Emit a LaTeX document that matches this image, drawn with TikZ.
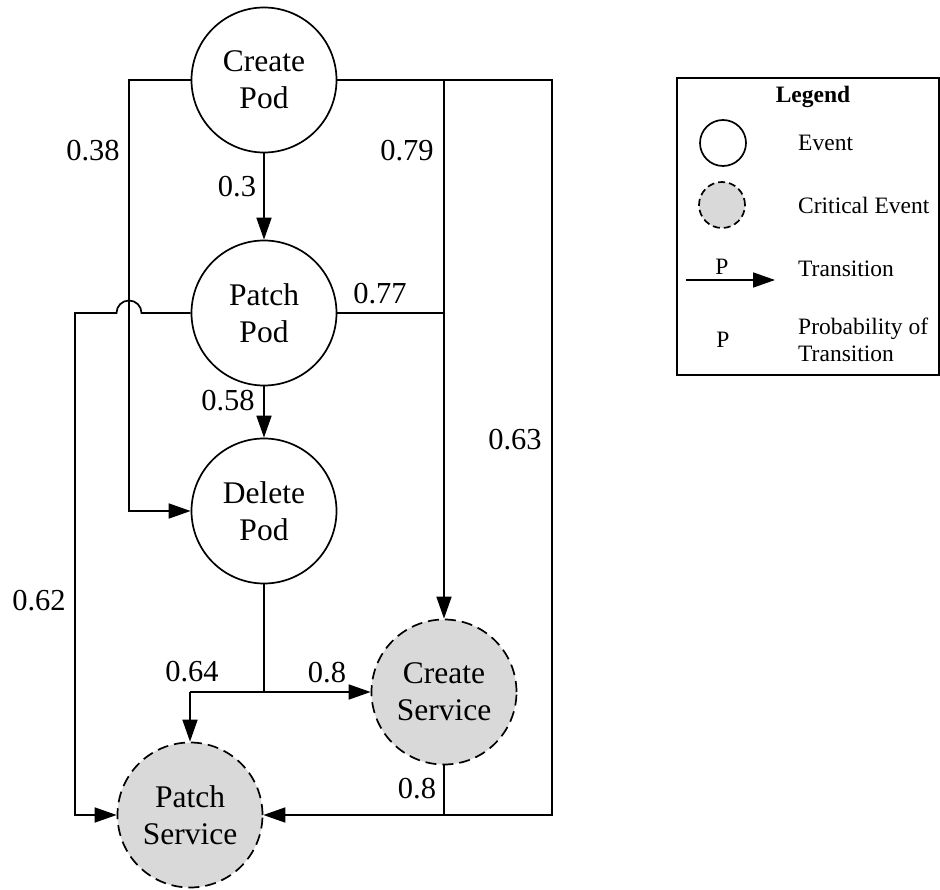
\documentclass[tikz,border=0pt]{standalone}
\usepackage{fontspec}
\setmainfont{Liberation Serif}
\usepackage{tikz}
\usetikzlibrary{arrows.meta,positioning}

\begin{document}
\begin{tikzpicture}[
  x=1pt, y=-1pt,
  event/.style={circle, draw, line width=1.7pt, minimum size=145pt, inner sep=0pt, align=center, font=\fontsize{31.5}{37}\selectfont},
  critical/.style={event, dash pattern=on 11pt off 6pt, fill=black!15},
  prob/.style={inner sep=0pt, font=\fontsize{30.5}{36}\selectfont},
  arr/.style={line width=1.7pt, -{Triangle[length=22pt,width=15pt]}},
  wire/.style={line width=1.7pt},
  legtext/.style={anchor=west, inner sep=0pt, align=left, font=\fontsize{23.5}{27}\selectfont},
]
\useasboundingbox (0,0) rectangle (940,890);

% Events
\node[event] (cpod) at (264,80) {Create\\Pod};
\node[event] (ppod) at (264,313) {Patch\\Pod};
\node[event] (dpod) at (264,511) {Delete\\Pod};
\node[critical] (csvc) at (444,692) {Create\\Service};
\node[critical] (psvc) at (190,815) {Patch\\Service};

% Bend points
\coordinate (tl) at (129,80);
\coordinate (dl) at (129,511);
\coordinate (jt) at (444,80);
\coordinate (tr) at (552,80);
\coordinate (br) at (552,815);
\coordinate (jm) at (444,313);
\coordinate (jb) at (444,815);
\coordinate (hop) at (141.5,313);
\coordinate (ol) at (75,313);
\coordinate (bl) at (75,815);
\coordinate (jd) at (264,692);
\coordinate (sl) at (190,692);

% Transitions
\draw[arr] (cpod) -- (ppod);
\draw[arr] (ppod) -- (dpod);
\draw[arr] (cpod.west) -- (tl) -- (dl) -- (dpod.west);
\draw[arr] (cpod.east) -- (tr) -- (br) -- (psvc.east);
\draw[arr] (jt) -- (csvc.north);
\draw[wire] (ppod.east) -- (jm);
\draw[wire] (csvc.south) -- (jb);
\draw[arr] (ppod.west) -- (hop) arc[start angle=0, end angle=180, radius=12.5pt] -- (ol) -- (bl) -- (psvc.west);
\draw[wire] (dpod.south) -- (jd);
\draw[arr] (sl) -- (csvc.west);
\draw[arr] (sl) -- (psvc.north);

% Probabilities
\node[prob] (p30) at (237,187) {0.3};
\node[prob] (p38) at (93,151) {0.38};
\node[prob] (p79) at (407,151) {0.79};
\node[prob] (p77) at (380,294) {0.77};
\node[prob] (p58) at (228,401) {0.58};
\node[prob] (p63) at (515,440) {0.63};
\node[prob] (p62) at (39,601) {0.62};
\node[prob] (p64) at (192,672) {0.64};
\node[prob] (p80a) at (327,673) {0.8};
\node[prob] (p80b) at (417,789) {0.8};

% Legend
\draw[line width=1.6pt] (677,78) rectangle (939,375);
\node[inner sep=0pt, font=\fontsize{23.5}{27}\selectfont\bfseries] (lgtitle) at (813,97) {Legend};
\node[event, minimum size=46pt] (lgev) at (723,143) {};
\node[critical, minimum size=46pt, dash pattern=on 7pt off 4pt] (lgcr) at (722,205) {};
\coordinate (lga) at (686,280);
\coordinate (lgb) at (775,280);
\draw[arr] (lga) -- (lgb);
\node[inner sep=0pt, font=\fontsize{23.5}{27}\selectfont] (lgp1) at (722,267) {P};
\node[inner sep=0pt, font=\fontsize{23.5}{27}\selectfont] (lgp2) at (723,340) {P};
\node[legtext] (lgt1) at (798,143) {Event};
\node[legtext] (lgt2) at (798,205) {Critical Event};
\node[legtext] (lgt3) at (798,269) {Transition};
\node[legtext] (lgt4) at (798,340) {Probability of\\Transition};

\end{tikzpicture}
\end{document}
